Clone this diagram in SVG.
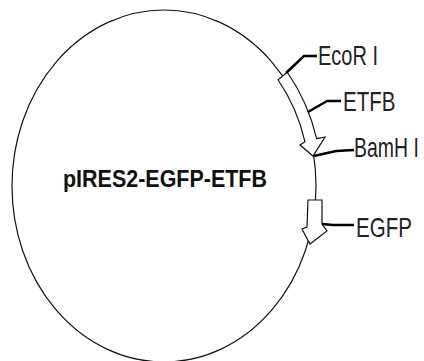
<svg xmlns="http://www.w3.org/2000/svg" width="424" height="361" viewBox="0 0 424 361">
<style>
.bb{fill:none;stroke:#111;stroke-width:1.2}
.feat{fill:#fff;stroke:#111;stroke-width:1.2;stroke-linejoin:miter}
.lead{fill:none;stroke:#000;stroke-width:2.5;stroke-linejoin:round}
.lbl{font-family:"Liberation Sans",Arial,sans-serif;font-size:27px;fill:#222}
.title{font-family:"Liberation Sans",Arial,sans-serif;font-size:23px;font-weight:bold;fill:#111}
</style>
<rect width="424" height="361" fill="#fff"/>
<g id="backbone">
<ellipse class="bb" cx="164" cy="186" rx="152" ry="176"/>
<text class="title" x="63" y="187" textLength="204" lengthAdjust="spacingAndGlyphs">pIRES2-EGFP-ETFB</text>
</g>
<g id="ETFB">
<path class="feat" d="M278,79.75 A146,170 0 0 1 305,141.8 L300,145 L313,156 L325,137 L316.6,138.7 A158,182 0 0 0 287.3,72.25 Z"/>
<text class="lbl" transform="translate(343,111) scale(0.76,1)">ETFB</text>
</g>
<g id="EGFP">
<path class="feat" d="M308,200 L322,200 L322,224 L327,231 L310,244 L302,229 L307,227 Z"/>
<text class="lbl" transform="translate(356,237) scale(0.76,1)">EGFP</text>
</g>
<g id="EcoRI">
<text class="lbl" transform="translate(318,65) scale(0.74,1)">EcoR I</text>
</g>
<g id="BamHI">
<text class="lbl" transform="translate(354,157) scale(0.72,1)">BamH I</text>
</g>
<g id="connectors">
<polyline class="lead" points="286,73 304,56 317,56"/>
<polyline class="lead" points="308,112 327,101 341,101"/>
<polyline class="lead" points="314,156 336,151 354,150"/>
<polyline class="lead" points="322,224 333,225 354,225"/>
</g>
</svg>
